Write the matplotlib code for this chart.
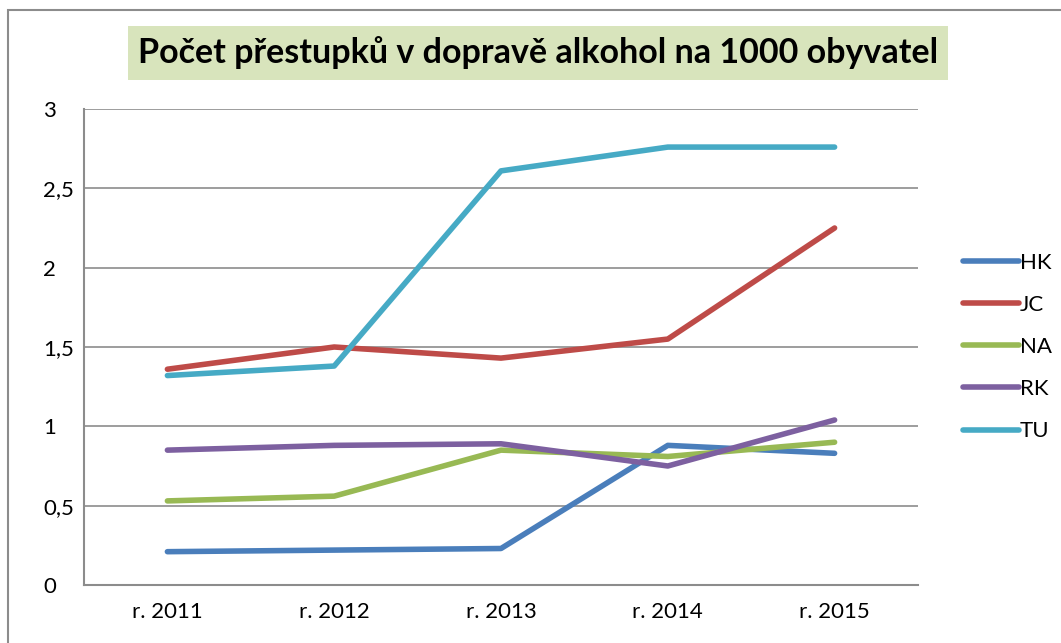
import matplotlib.pyplot as plt
from matplotlib.patches import Rectangle
from matplotlib.ticker import FuncFormatter

plt.rcParams["font.family"] = ["Lato", "DejaVu Sans"]

years = ["r. 2011", "r. 2012", "r. 2013", "r. 2014", "r. 2015"]
hk = [0.21, 0.22, 0.23, 0.88, 0.83]
jc = [1.36, 1.50, 1.43, 1.55, 2.25]
na = [0.53, 0.56, 0.85, 0.81, 0.90]
rk = [0.85, 0.88, 0.89, 0.75, 1.04]
tu = [1.32, 1.38, 2.61, 2.76, 2.76]

series = [
    ("HK", hk, "#4a7ebb"),
    ("JC", jc, "#be4b48"),
    ("NA", na, "#98b954"),
    ("RK", rk, "#7d60a0"),
    ("TU", tu, "#46aac5"),
]

fig = plt.figure(figsize=(10.61, 6.43), dpi=100)
ax = fig.add_axes([84 / 1061, 58 / 643, 834 / 1061, 476 / 643])

x = range(len(years))
for name, vals, color in series:
    ax.plot(x, vals, color=color, lw=4, label=name, solid_capstyle="round")

ax.set_xlim(-0.5, 4.5)
ax.set_ylim(0, 3)
ax.set_yticks([0, 0.5, 1, 1.5, 2, 2.5, 3])
ax.yaxis.set_major_formatter(FuncFormatter(lambda v, p: f"{v:g}".replace(".", ",")))
ax.set_xticks(list(x))
ax.set_xticklabels(years)
ax.tick_params(length=0, labelsize=16, pad=12)
ax.tick_params(axis="y", pad=29.5)
for lbl in ax.get_yticklabels():
    lbl.set_horizontalalignment("left")
ax.grid(axis="y", color="#8c8c8c", lw=1.2)
ax.set_axisbelow(True)
for s in ["top", "right"]:
    ax.spines[s].set_visible(False)
for s in ["left", "bottom"]:
    ax.spines[s].set_color("#8c8c8c")
    ax.spines[s].set_linewidth(1.5)

ax.legend(loc="center left", bbox_to_anchor=(1.03, 0.5), frameon=False,
          fontsize=16, handlelength=2.5, handletextpad=0.05, labelspacing=1.0)

fig.text(538 / 1061, 1 - 53 / 643, "Počet přestupků v dopravě alkohol na 1000 obyvatel",
         ha="center", va="center", fontsize=24.5, fontweight="bold",
         bbox=dict(boxstyle="square,pad=0.3", fc="#d8e4bc", ec="none"))

fig.add_artist(Rectangle((8 / 1061, -0.05), 1.1, 1 - 10 / 643 + 0.05,
                         transform=fig.transFigure, fill=False,
                         ec="#8c8c8c", lw=1.5))

fig.savefig("out.png", dpi=100)
